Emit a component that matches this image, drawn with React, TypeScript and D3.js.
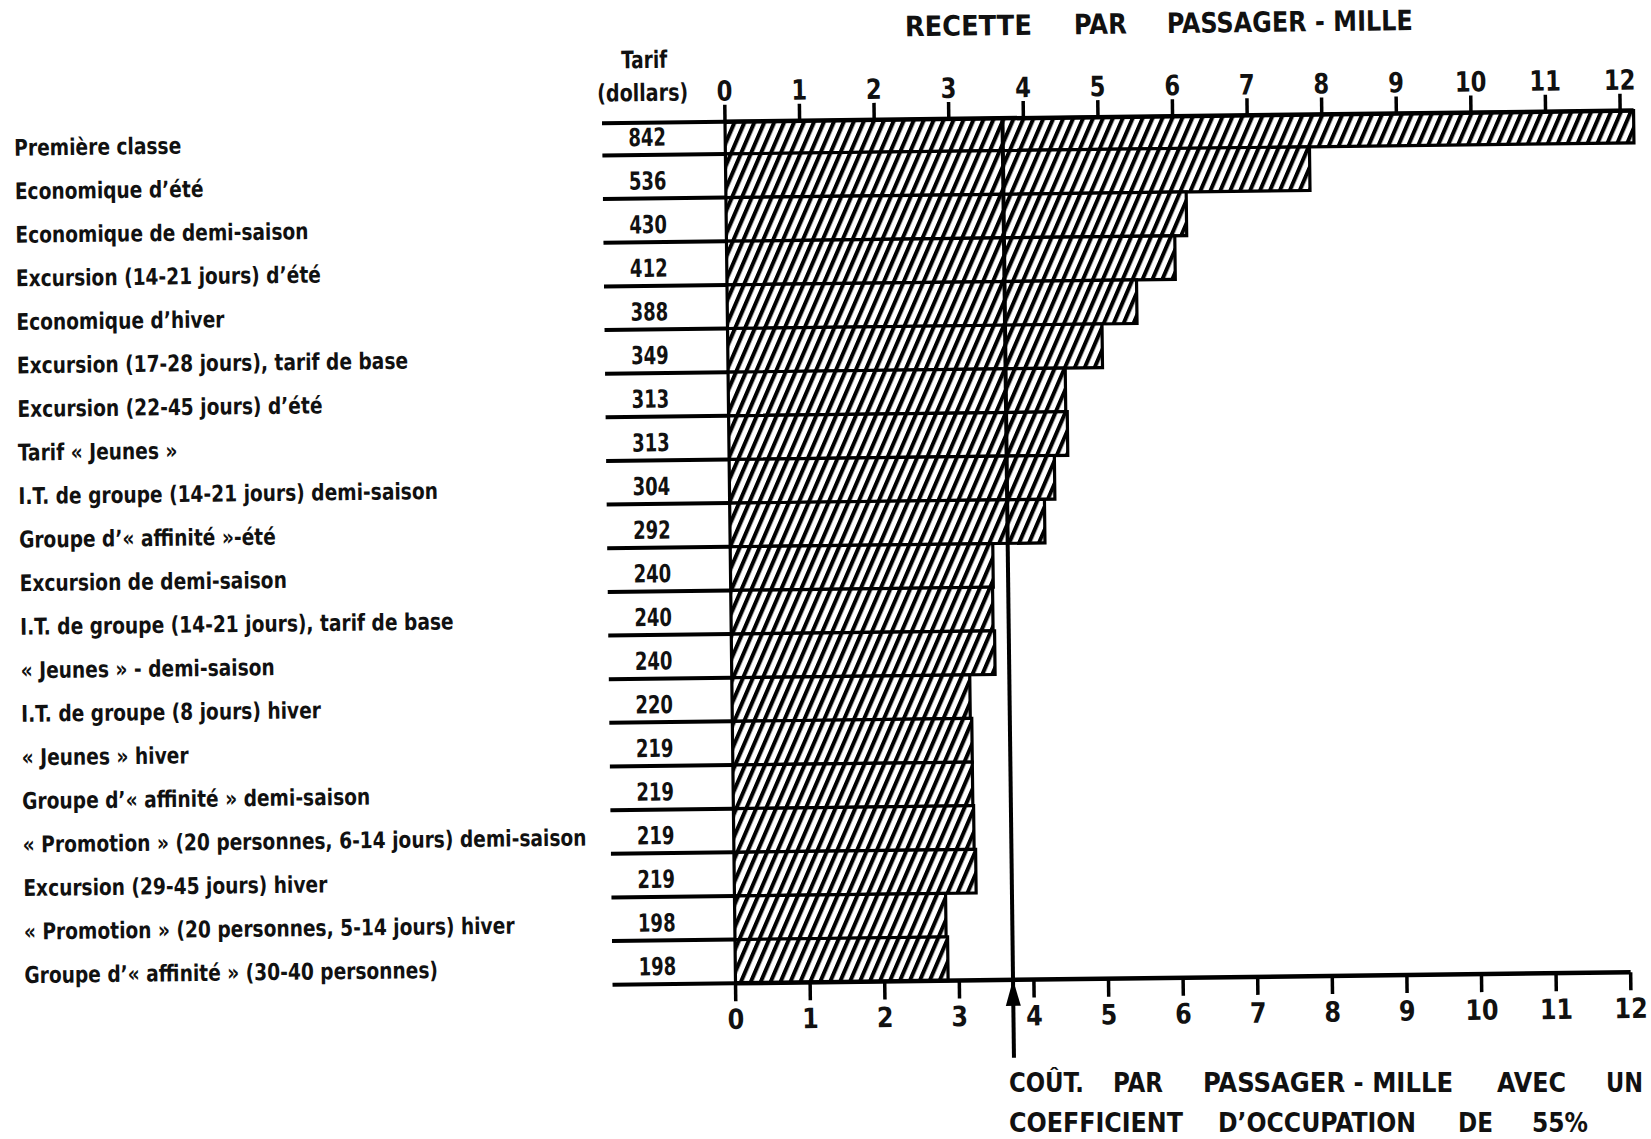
import React from 'react';
import * as d3 from 'd3';

const categories: string[] = [
  'Première classe',
  'Economique d’été',
  'Economique de demi-saison',
  'Excursion (14-21 jours) d’été',
  'Economique d’hiver',
  'Excursion (17-28 jours), tarif de base',
  'Excursion (22-45 jours) d’été',
  'Tarif « Jeunes »',
  'I.T. de groupe (14-21 jours) demi-saison',
  'Groupe d’« affinité »-été',
  'Excursion de demi-saison',
  'I.T. de groupe (14-21 jours), tarif de base',
  '« Jeunes » - demi-saison',
  'I.T. de groupe (8 jours) hiver',
  '« Jeunes » hiver',
  'Groupe d’« affinité » demi-saison',
  '« Promotion » (20 personnes, 6-14 jours) demi-saison',
  'Excursion (29-45 jours) hiver',
  '« Promotion » (20 personnes, 5-14 jours) hiver',
  'Groupe d’« affinité » (30-40 personnes)',
];

const tarifs: number[] = [842, 536, 430, 412, 388, 349, 313, 313, 304, 292, 240, 240, 240, 220, 219, 219, 219, 219, 198, 198];

const recetteParPassagerMille: number[] = [
  12.18, 7.83, 6.17, 6.01, 5.49, 5.02, 4.52, 4.54, 4.36, 4.22,
  3.52, 3.51, 3.53, 3.19, 3.21, 3.21, 3.22, 3.24, 2.83, 2.85,
];

const axisTicks: number[] = [0, 1, 2, 3, 4, 5, 6, 7, 8, 9, 10, 11, 12];

const coutParPassagerMille = 3.72;

const titleWords = ['RECETTE', 'PAR', 'PASSAGER - MILLE'];
const noteLine1 = ['COÛT.', 'PAR', 'PASSAGER - MILLE', 'AVEC', 'UN'];
const noteLine2 = ['COEFFICIENT', 'D’OCCUPATION', 'DE', '55%'];

const FONT = "'Liberation Sans Narrow', 'DejaVu Sans Condensed', 'Arial Narrow', sans-serif";

type NarrowProps = {
  x: number;
  y: number;
  sx: number;
  size: number;
  anchor?: 'start' | 'middle' | 'end';
  children: React.ReactNode;
};

function NarrowText({ x, y, sx, size, anchor = 'start', children }: NarrowProps) {
  return (
    <text
      transform={`translate(${x},${y}) scale(${sx},1)`}
      textAnchor={anchor}
      dominantBaseline="central"
      fontFamily={FONT}
      fontWeight="bold"
      fontSize={size}
      fill="#111"
    >
      {children}
    </text>
  );
}

export default function App() {
  const W = 1651;
  const H = 1139;
  const axisTop = 121.7;
  const axisBottom = 983.3;

  const x = d3.scaleLinear().domain([0, 12]).range([725, 725 + 12 * 74.6]);
  const y = d3.scaleBand<string>().domain(categories).range([110.3, axisBottom]).padding(0);
  const bw = y.bandwidth();

  const rowBoundaries = d3.range(categories.length + 1).map((i) =>
    i === 0 ? axisTop : (y(categories[i - 1]) as number) + bw
  );

  const titleSpans: [number, number][] = [[906, 1033], [1075, 1128], [1168, 1414]];
  const note1Spans: [number, number][] = [[1009, 1084], [1113, 1163], [1203, 1453], [1497, 1566], [1606, 1643]];
  const note2Spans: [number, number][] = [[1009, 1183], [1218, 1416], [1458, 1493], [1532, 1588]];

  const costX = x(coutParPassagerMille);

  return (
    <svg
      width={W}
      height={H}
      viewBox={`0 0 ${W} ${H}`}
      style={{ position: 'absolute', left: 0, top: 0, display: 'block', background: '#fff' }}
    >
      <defs>
        <pattern
          id="hatch"
          patternUnits="userSpaceOnUse"
          width={9.1}
          height={20}
          patternTransform="rotate(24)"
        >
          <rect x={0} y={0} width={9.1} height={20} fill="#fff" />
          <line x1={2} y1={0} x2={2} y2={20} stroke="#000" strokeWidth={4} />
        </pattern>
      </defs>
      <rect x={0} y={0} width={W} height={H} fill="#fff" />

      <g transform="rotate(-0.7, 725, 122)">
        {/* title */}
        {titleWords.map((w, i) => (
          <text
            key={w}
            x={titleSpans[i][0]}
            y={29}
            dominantBaseline="central"
            fontFamily={FONT}
            fontWeight="bold"
            fontSize={28}
            textLength={titleSpans[i][1] - titleSpans[i][0]}
            lengthAdjust="spacingAndGlyphs"
            fill="#111"
          >
            {w}
          </text>
        ))}

        {/* header of tariff column */}
        <text x={645} y={59} textAnchor="middle" dominantBaseline="central" fontFamily={FONT}
          fontWeight="bold" fontSize={24} textLength={46} lengthAdjust="spacingAndGlyphs" fill="#111">
          Tarif
        </text>
        <text x={643} y={92} textAnchor="middle" dominantBaseline="central" fontFamily={FONT}
          fontWeight="bold" fontSize={24} textLength={91} lengthAdjust="spacingAndGlyphs" fill="#111">
          (dollars)
        </text>

        {/* bars */}
        {categories.map((c, i) => {
          const top = Math.max(y(c) as number, axisTop);
          const bottom = (y(c) as number) + bw;
          return (
            <rect
              key={c}
              x={x(0)}
              y={top}
              width={x(recetteParPassagerMille[i]) - x(0)}
              height={bottom - top}
              fill="url(#hatch)"
              stroke="#000"
              strokeWidth={3.2}
            />
          );
        })}

        {/* tariff column rules */}
        {rowBoundaries.map((b, i) => (
          <line key={i} x1={602} x2={x(0)} y1={b} y2={b} stroke="#000" strokeWidth={4} />
        ))}

        {/* tariff values */}
        {categories.map((c, i) => (
          <NarrowText key={c} x={647} y={(y(c) as number) + bw / 2 + 4} sx={0.8} size={25} anchor="middle">
            {tarifs[i]}
          </NarrowText>
        ))}

        {/* category labels */}
        {categories.map((c, i) => (
          <NarrowText key={c} x={14} y={(y(c) as number) + bw / 2 + 7 - i * 0.1} sx={0.9} size={23}>
            {c}
          </NarrowText>
        ))}

        {/* top axis */}
        <line x1={x(0)} x2={x(recetteParPassagerMille[0])} y1={axisTop} y2={axisTop} stroke="#000" strokeWidth={4.5} />
        {axisTicks.map((t) => (
          <g key={'t' + t}>
            <line x1={x(t)} x2={x(t)} y1={axisTop} y2={axisTop - 17} stroke="#000" strokeWidth={3.5} />
            <NarrowText x={x(t)} y={axisTop - 31} sx={0.9} size={28} anchor="middle">
              {t}
            </NarrowText>
          </g>
        ))}

        {/* bottom axis */}
        <line x1={x(0)} x2={x(12)} y1={axisBottom} y2={axisBottom} stroke="#000" strokeWidth={4.5} />
        {axisTicks.map((t) => (
          <g key={'b' + t}>
            <line x1={x(t)} x2={x(t)} y1={axisBottom} y2={axisBottom + 18} stroke="#000" strokeWidth={3.5} />
            <NarrowText x={x(t)} y={axisBottom + 36} sx={0.95} size={28} anchor="middle">
              {t}
            </NarrowText>
          </g>
        ))}

        {/* cost line with arrow */}
        <line x1={costX} x2={costX} y1={axisTop} y2={axisBottom + 78} stroke="#000" strokeWidth={4} />
        <path
          d={`M${costX},${axisBottom} L${costX + 7.5},${axisBottom + 26} L${costX - 7.5},${axisBottom + 26} Z`}
          fill="#000"
        />
      </g>

      {/* note below */}
      {noteLine1.map((w, i) => (
        <text key={'n1' + i} x={note1Spans[i][0]} y={1082} dominantBaseline="central" fontFamily={FONT}
          fontWeight="bold" fontSize={27} textLength={note1Spans[i][1] - note1Spans[i][0]}
          lengthAdjust="spacingAndGlyphs" fill="#111">
          {w}
        </text>
      ))}
      {noteLine2.map((w, i) => (
        <text key={'n2' + i} x={note2Spans[i][0]} y={1122} dominantBaseline="central" fontFamily={FONT}
          fontWeight="bold" fontSize={27} textLength={note2Spans[i][1] - note2Spans[i][0]}
          lengthAdjust="spacingAndGlyphs" fill="#111">
          {w}
        </text>
      ))}
    </svg>
  );
}
